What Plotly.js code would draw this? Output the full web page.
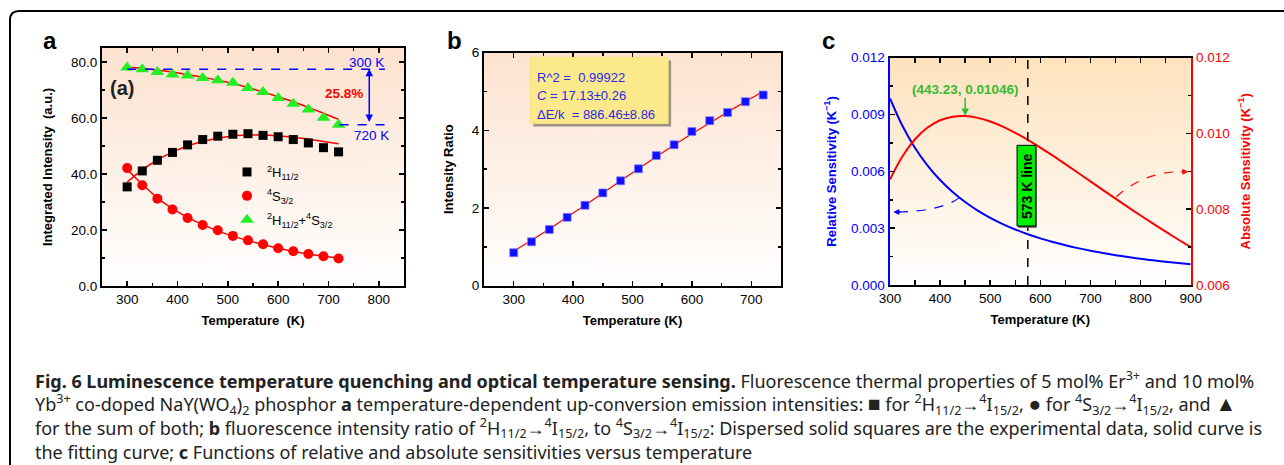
<!DOCTYPE html>
<html>
<head>
<meta charset="utf-8">
<script src="https://cdn.plot.ly/plotly-3.0.1.min.js"></script>
<style>html,body{margin:0;padding:0;background:#fff;}#chart{width:1284px;height:465px;}</style>
</head>
<body>
<div id="chart"></div>
<script>
// ---------- DATA ----------
const temps = [300,330,360,390,420,450,480,510,540,570,600,630,660,690,720];
// panel a
const h11 = [35.4,41.1,44.9,47.7,50.4,52.3,53.5,54.2,54.4,53.8,53.3,52.3,51.1,49.4,47.9];
const s32 = [42.1,36.0,31.2,27.3,24.3,21.8,19.9,17.9,16.3,14.9,13.5,12.4,11.4,10.6,9.8];
const sumI = [78.0,77.4,76.4,75.5,75.2,74.3,73.5,72.6,70.7,69.3,67.1,65.1,63.0,60.1,57.6];
const h11Fit = [37.1,41.5,45.0,47.8,50.0,51.6,52.8,53.6,53.9,53.9,53.6,53.1,52.4,51.6,50.8];
const s32Fit = [41.6,36.3,31.5,27.6,24.5,21.9,19.7,17.8,16.2,14.8,13.5,12.4,11.4,10.6,9.9];
const sumFit = [78.2,77.7,77.1,76.4,75.5,74.6,73.5,72.3,70.9,69.3,67.6,65.8,63.8,61.7,59.5];
const legendNames = ['<sup>2</sup>H<sub>11/2</sub>','<sup>4</sup>S<sub>3/2</sub>','<sup>2</sup>H<sub>11/2</sub>+<sup>4</sup>S<sub>3/2</sub>'];
// panel b
const ratio = [0.85,1.13,1.45,1.76,2.07,2.39,2.70,3.01,3.35,3.63,3.97,4.25,4.46,4.74,4.91];
const ratioFit = [0.89,1.17,1.46,1.77,2.07,2.39,2.70,3.01,3.32,3.62,3.91,4.19,4.47,4.74,5.00];
const fitText = ['R^2 =  0.99922','<i>C</i> = 17.13±0.26','ΔE/k  = 886.46±8.86'];
// panel c
const tempsC = [300,325,350,375,400,425,450,475,500,525,550,575,600,625,650,675,700,725,750,775,800,825,850,875,900];
const relSens = [0.009850,0.008393,0.007236,0.006304,0.005540,0.004908,0.004378,0.003929,0.003546,0.003216,0.002930,0.002681,0.002462,0.002269,0.002098,0.001946,0.001809,0.001687,0.001576,0.001476,0.001385,0.001302,0.001227,0.001158,0.001094];
const absSens = [0.008787,0.009399,0.009847,0.010156,0.010348,0.010442,0.010459,0.010412,0.010317,0.010182,0.010017,0.009831,0.009628,0.009413,0.009188,0.008964,0.008735,0.008506,0.008279,0.008055,0.007834,0.007618,0.007407,0.007201,0.007001];
const peak = {x: 450, y: 0.01046, label: '(443.23, 0.01046)'};
const lineT = 575;

// ---------- HELPERS ----------
const W = 1284, H = 465;
const px = v => v / W;
const py = v => 1 - v / H;
function grad(c1, c2) {
  const cv = document.createElement('canvas');
  cv.width = 4; cv.height = 256;
  const g = cv.getContext('2d');
  const lg = g.createLinearGradient(0, 0, 0, 256);
  lg.addColorStop(0, c1); lg.addColorStop(1, c2);
  g.fillStyle = lg; g.fillRect(0, 0, 4, 256);
  return cv.toDataURL();
}
const FONT = 'Liberation Sans, Arial, sans-serif';
const TS = 13.5;
const tickFont = {family: FONT, size: TS, color: '#000'};
const titleFont = {family: FONT, size: 13, color: '#000'};
const minorX = {dtick: 50, ticks: 'inside', ticklen: 3, tickcolor: '#000'};

function boxAxis(domain, range, extra) {
  return Object.assign({
    domain: domain, range: range, showgrid: false, zeroline: false,
    showline: true, linecolor: '#000', linewidth: 2, mirror: 'allticks',
    ticks: 'inside', ticklen: 5, tickwidth: 1.5, tickcolor: '#000',
    tickfont: tickFont
  }, extra);
}

// ---------- TRACES ----------
const traces = [
  // panel a fits
  {x: temps, y: h11Fit, mode: 'lines', line: {color: '#ff0000', width: 1.5, shape: 'spline'}, showlegend: false, xaxis: 'x', yaxis: 'y'},
  {x: temps, y: s32Fit, mode: 'lines', line: {color: '#ff0000', width: 1.5, shape: 'spline'}, showlegend: false, xaxis: 'x', yaxis: 'y'},
  {x: temps, y: sumFit, mode: 'lines', line: {color: '#ff0000', width: 1.5, shape: 'spline'}, showlegend: false, xaxis: 'x', yaxis: 'y'},
  // panel a data
  {x: temps, y: h11, name: legendNames[0], legendgroup: 'g1', mode: 'markers', marker: {symbol: 'square', size: 9, color: '#000'}, xaxis: 'x', yaxis: 'y'},
  {x: temps, y: s32, name: legendNames[1], legendgroup: 'g2', mode: 'markers', marker: {symbol: 'circle', size: 10, color: '#ff0000'}, xaxis: 'x', yaxis: 'y'},
  {x: temps, y: sumI, name: legendNames[2], legendgroup: 'g3', mode: 'markers', marker: {symbol: 'triangle-up', size: 12, color: '#22ee22'}, xaxis: 'x', yaxis: 'y'},
  // panel b
  {x: temps, y: ratioFit, mode: 'lines', line: {color: '#ff0000', width: 1.2, shape: 'spline'}, showlegend: false, xaxis: 'x2', yaxis: 'y2'},
  {x: temps, y: ratio, mode: 'markers', marker: {symbol: 'square', size: 8, color: '#1010ff', line: {color: 'rgba(130,130,255,0.7)', width: 1}}, showlegend: false, xaxis: 'x2', yaxis: 'y2'},
  // panel c
  {x: tempsC, y: relSens, mode: 'lines', line: {color: '#0000ff', width: 2, shape: 'spline'}, showlegend: false, xaxis: 'x3', yaxis: 'y3'},
  {x: tempsC, y: absSens, mode: 'lines', line: {color: '#ff0000', width: 2, shape: 'spline'}, showlegend: false, xaxis: 'x3', yaxis: 'y4'}
];

// ---------- LAYOUT ----------
const dA = {x: [px(102), px(404)], y: [py(286), py(48)]};
const dB = {x: [px(484), px(781)], y: [py(285.7), py(52.7)]};
const dC = {x: [px(890), px(1190.7)], y: [py(285), py(57.7)]};

const blue = '#0000ff', red = '#ff0000';
const textBlue = '#2a2ae8';

const letter = (t, x) => ({xref: 'paper', yref: 'paper', x: px(x), y: py(40), xanchor: 'center', yanchor: 'middle', text: '<b>' + t + '</b>', showarrow: false, font: {family: FONT, size: 24, color: '#000'}});

const annotations = [
  letter('a', 50), letter('b', 454), letter('c', 828),
  // panel a texts
  {xref: 'x', yref: 'y', x: 290, y: 70.6, xanchor: 'center', yanchor: 'middle', text: '<b>(a)</b>', showarrow: false, font: {family: FONT, size: 20, color: '#222'}},
  {xref: 'x', yref: 'y', x: 776, y: 80.0, xanchor: 'center', yanchor: 'middle', text: '300 K', showarrow: false, font: {family: FONT, size: 13.5, color: blue}},
  {xref: 'x', yref: 'y', x: 785, y: 53.6, xanchor: 'center', yanchor: 'middle', text: '720 K', showarrow: false, font: {family: FONT, size: 13.5, color: blue}},
  {xref: 'x', yref: 'y', x: 731, y: 68.7, xanchor: 'center', yanchor: 'middle', text: '<b>25.8%</b>', showarrow: false, font: {family: FONT, size: 13.5, color: red}},
  {xref: 'x', yref: 'y', axref: 'x', ayref: 'y', x: 781, y: sumI[0] - 0.4, ax: 781, ay: sumI[sumI.length - 1] + 0.4, text: '', showarrow: true, arrowside: 'end+start', arrowhead: 2, arrowsize: 1, arrowwidth: 1.5, arrowcolor: blue},
  // panel c texts
  {xref: 'x3', yref: 'y4', x: peak.x, y: peak.y, ax: 0, ay: -27, text: '<b>' + peak.label + '</b>', showarrow: true, arrowhead: 2, arrowsize: 1, arrowwidth: 1.5, arrowcolor: '#33bb33', font: {family: FONT, size: 13.5, color: '#33bb33'}},
  {xref: 'x3', yref: 'y3', x: 572, y: 0.00524, xanchor: 'center', yanchor: 'middle', text: '<b>573 K line</b>', textangle: -90, showarrow: false, font: {family: FONT, size: 14, color: '#000'}},
  {xref: 'x3', yref: 'y3', x: 306.6, y: 0.00385, ax: 9, ay: 0, text: '', showarrow: true, arrowhead: 2, arrowsize: 1, arrowwidth: 1.2, arrowcolor: blue},
  {xref: 'x3', yref: 'y4', x: 895.4, y: 0.00899, ax: -9, ay: 0, text: '', showarrow: true, arrowhead: 2, arrowsize: 1, arrowwidth: 1.2, arrowcolor: red}
];
// panel b text box lines
const boxY = [5.374, 4.885, 4.396];
fitText.forEach((t, i) => annotations.push({xref: 'x2', yref: 'y2', x: 336, y: boxY[i], xanchor: 'left', yanchor: 'middle', text: t, showarrow: false, font: {family: FONT, size: 13, color: textBlue}}));

// caption
const CAP = 'Noto Sans, Open Sans, sans-serif';
const sym = s => '<span style="font-size:21px">' + s + '</span>';
const captionLines = [
  '<b>Fig. 6 Luminescence temperature quenching and optical temperature sensing.</b> Fluorescence thermal properties of 5 mol% Er<sup>3+</sup> and 10 mol%',
  'Yb<sup>3+</sup> co-doped NaY(WO<sub>4</sub>)<sub>2</sub> phosphor <b>a</b> temperature-dependent up-conversion emission intensities: ' + sym('■') + ' for <sup>2</sup>H<sub>11/2</sub>→<sup>4</sup>I<sub>15/2</sub>, ' + sym('●') + ' for <sup>4</sup>S<sub>3/2</sub>→<sup>4</sup>I<sub>15/2</sub>, and ' + sym('▲'),
  'for the sum of both; <b>b</b> fluorescence intensity ratio of <sup>2</sup>H<sub>11/2</sub>→<sup>4</sup>I<sub>15/2</sub>, to <sup>4</sup>S<sub>3/2</sub>→<sup>4</sup>I<sub>15/2</sub>: Dispersed solid squares are the experimental data, solid curve is',
  'the fitting curve; <b>c</b> Functions of relative and absolute sensitivities versus temperature'
];
const capY = [380, 404, 428, 452];
captionLines.forEach((t, i) => annotations.push({xref: 'paper', yref: 'paper', x: px(33), y: py(capY[i]), xanchor: 'left', yanchor: 'middle', text: t, showarrow: false, font: {family: CAP, size: 18, color: '#222'}}));

const shapes = [
  // outer rounded frame
  {type: 'path', xref: 'paper', yref: 'paper', path: `M ${px(10)},-0.05 L ${px(10)},${py(20)} Q ${px(10)},${py(11)} ${px(19)},${py(11)} L 1.01,${py(11)}`, line: {color: '#000', width: 2}},
  // panel a dashed levels
  {type: 'line', xref: 'x', yref: 'y', x0: 300, x1: 812, y0: sumI[0] - 0.6, y1: sumI[0] - 0.6, line: {color: blue, width: 1.5, dash: 'dash'}},
  {type: 'line', xref: 'x', yref: 'y', x0: 722, x1: 815, y0: sumI[sumI.length - 1], y1: sumI[sumI.length - 1], line: {color: blue, width: 1.5, dash: 'dash'}},
  // panel b box shadow + box
  {type: 'rect', xref: 'x2', yref: 'y2', x0: 333, x1: 565, y0: 4.10, y1: 5.80, fillcolor: '#9c928a', line: {width: 0}},
  {type: 'rect', xref: 'x2', yref: 'y2', x0: 328, x1: 560, y0: 4.18, y1: 5.88, fillcolor: '#fbe98c', line: {color: '#f6e27a', width: 1}},
  // panel c vertical dashed line
  {type: 'line', xref: 'x3', yref: 'y3 domain', x0: lineT, x1: lineT, y0: 0, y1: 1, line: {color: '#000', width: 1.5, dash: 'dash'}},
  // panel c "573 K line" box (shadow + box)
  {type: 'rect', xref: 'x3', yref: 'y3', x0: 556, x1: 593, y0: 0.00302, y1: 0.00728, fillcolor: '#555', line: {width: 0}},
  {type: 'rect', xref: 'x3', yref: 'y3', x0: 553.5, x1: 590.8, y0: 0.003115, y1: 0.007375, fillcolor: '#00ee00', line: {color: '#000', width: 1}},
  // panel c curved dashed arrows
  {type: 'path', xref: 'x3', yref: 'y3', path: 'M 438,0.0046 Q 400,0.00387 309,0.00385', line: {color: blue, width: 1.2, dash: 'dash'}},
  {type: 'path', xref: 'x3', yref: 'y4', path: 'M 751.5,0.00833 Q 812,0.00904 893,0.00899', line: {color: red, width: 1.2, dash: 'dash'}}
];

const images = [
  {source: grad('#fde2cf', '#ffffff'), xref: 'x domain', yref: 'y domain', x: 0, y: 1, sizex: 1, sizey: 1, sizing: 'stretch', xanchor: 'left', yanchor: 'top', layer: 'below'},
  {source: grad('#fde3d0', '#ffffff'), xref: 'x2 domain', yref: 'y2 domain', x: 0, y: 1, sizex: 1, sizey: 1, sizing: 'stretch', xanchor: 'left', yanchor: 'top', layer: 'below'},
  {source: grad('#fee2bd', '#ffffff'), xref: 'x3 domain', yref: 'y3 domain', x: 0, y: 1, sizex: 1, sizey: 1, sizing: 'stretch', xanchor: 'left', yanchor: 'top', layer: 'below'}
];

const layout = {
  width: W, height: H,
  margin: {l: 0, r: 0, t: 0, b: 0},
  paper_bgcolor: '#fff', plot_bgcolor: 'rgba(0,0,0,0)',
  font: {family: FONT},
  showlegend: true,
  legend: {x: px(227), y: py(157), xanchor: 'left', yanchor: 'top', bgcolor: 'rgba(0,0,0,0)', font: {family: FONT, size: 13, color: '#000'}, itemwidth: 30, tracegroupgap: 4},
  xaxis: boxAxis(dA.x, [250, 850], {anchor: 'y', dtick: 100, minor: minorX, title: {text: '<b>Temperature  (K)</b>', font: titleFont, standoff: 10}}),
  yaxis: boxAxis(dA.y, [0, 85], {anchor: 'x', dtick: 20, tickformat: '.1f', minor: {dtick: 10, ticks: 'inside', ticklen: 3, tickcolor: '#000'}, title: {text: '<b>Integrated Intensity  (a.u.)</b>', font: titleFont, standoff: 15}}),
  xaxis2: boxAxis(dB.x, [250, 750], {anchor: 'y2', dtick: 100, minor: minorX, title: {text: '<b>Temperature (K)</b>', font: titleFont, standoff: 10}}),
  yaxis2: boxAxis(dB.y, [0, 6], {anchor: 'x2', dtick: 2, minor: {dtick: 1, ticks: 'inside', ticklen: 3, tickcolor: '#000'}, title: {text: '<b>Intensity Ratio</b>', font: titleFont, standoff: 15}}),
  xaxis3: boxAxis(dC.x, [300, 900], {anchor: 'y3', dtick: 100, minor: minorX, title: {text: '<b>Temperature (K)</b>', font: titleFont, standoff: 10}}),
  yaxis3: {domain: dC.y, range: [0, 0.012], anchor: 'x3', showgrid: false, zeroline: false, showline: true, linecolor: blue, linewidth: 2.5, mirror: false,
    ticks: 'inside', ticklen: 5, tickwidth: 1.5, tickcolor: '#000', dtick: 0.003, tickformat: '.3f', tickfont: {family: FONT, size: TS, color: blue},
    minor: {dtick: 0.0015, ticks: 'inside', ticklen: 3, tickcolor: '#000'},
    title: {text: '<b>Relative Sensitivity (K<sup>−1</sup>)</b>', font: {family: FONT, size: 13, color: blue}, standoff: 12}},
  yaxis4: {range: [0.006, 0.012], overlaying: 'y3', side: 'right', anchor: 'x3', showgrid: false, zeroline: false, showline: true, linecolor: red, linewidth: 2.5,
    ticks: 'inside', ticklen: 5, tickwidth: 1.5, tickcolor: '#000', dtick: 0.002, tickformat: '.3f', tickfont: {family: FONT, size: TS, color: red},
    minor: {dtick: 0.001, ticks: 'inside', ticklen: 3, tickcolor: '#000'},
    title: {text: '<b>Absolute Sensitivity (K<sup>−1</sup>)</b>', font: {family: FONT, size: 13, color: red}, standoff: 12}},
  annotations: annotations,
  shapes: shapes,
  images: images
};

Plotly.newPlot('chart', traces, layout, {displayModeBar: false, staticPlot: true});
</script>
</body>
</html>
